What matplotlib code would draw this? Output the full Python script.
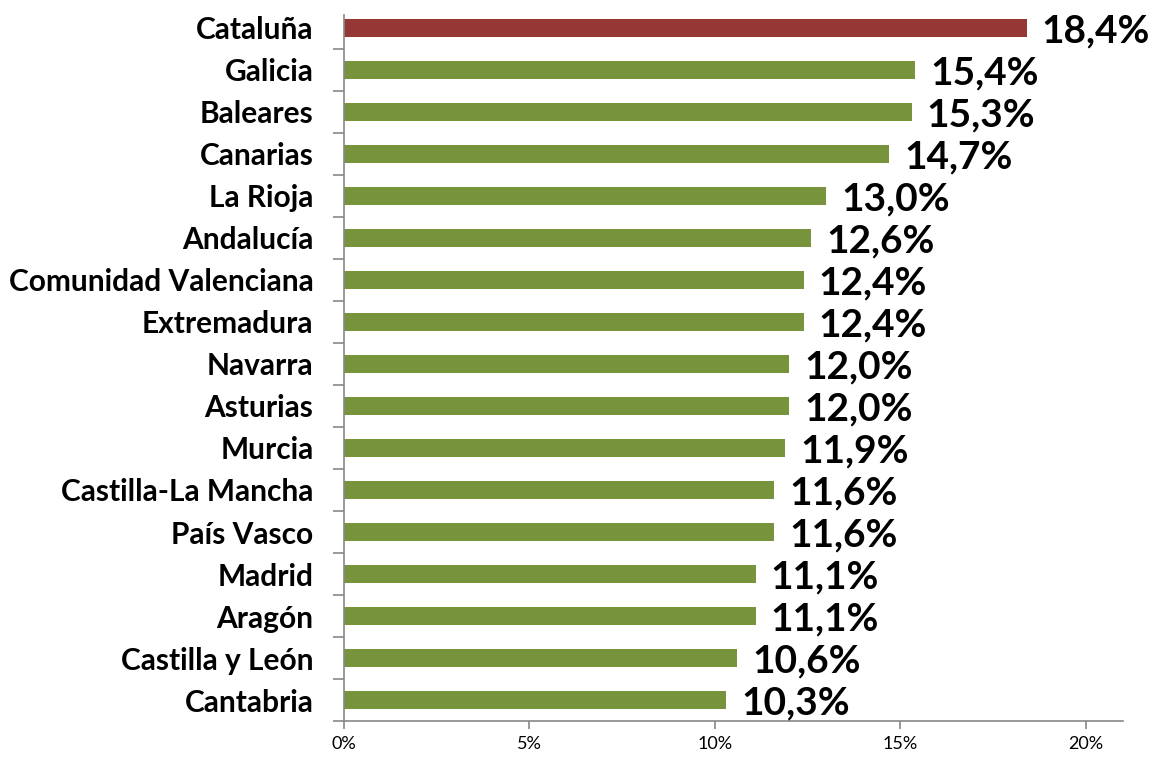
import matplotlib
matplotlib.use("Agg")
import matplotlib.pyplot as plt
from matplotlib.ticker import FuncFormatter, FixedLocator

regions = ["Cataluña", "Galicia", "Baleares", "Canarias", "La Rioja", "Andalucía",
           "Comunidad Valenciana", "Extremadura", "Navarra", "Asturias", "Murcia",
           "Castilla-La Mancha", "País Vasco", "Madrid", "Aragón", "Castilla y León",
           "Cantabria"]
values = [18.4, 15.4, 15.3, 14.7, 13.0, 12.6, 12.4, 12.4, 12.0, 12.0, 11.9,
          11.6, 11.6, 11.1, 11.1, 10.6, 10.3]
value_labels = ["18,4%", "15,4%", "15,3%", "14,7%", "13,0%", "12,6%", "12,4%", "12,4%",
                "12,0%", "12,0%", "11,9%", "11,6%", "11,6%", "11,1%", "11,1%", "10,6%",
                "10,3%"]
x_ticks = [0, 5, 10, 15, 20]

highlight = "#953735"
green = "#77933C"

plt.rcParams['font.family'] = ['Lato', 'DejaVu Sans']

fig = plt.figure(figsize=(11.53, 7.58), dpi=100)
ax = fig.add_axes([0.2983, 0.0488, 0.6757, 0.942])

n = len(regions)
ypos = list(range(n))
colors = [highlight if i == 0 else green for i in range(n)]
ax.barh(ypos, values, height=0.42, color=colors, zorder=2)

for y, v, lab in zip(ypos, values, value_labels):
    ax.text(v + 0.4, y + 0.08, lab, va="center", ha="left", fontsize=28,
            fontweight="bold", color="black")

ax.set_ylim(n - 0.5, -0.5)
ax.set_xlim(0, 21)

ax.set_yticks(ypos)
ax.set_yticklabels(regions, fontsize=21.5, fontweight="bold")
ax.tick_params(axis="y", length=0, pad=22)
ax.yaxis.set_minor_locator(FixedLocator([i + 0.5 for i in range(0, n)]))
ax.tick_params(axis="y", which="minor", length=8, color="#888888", width=1.2)
ax.spines["left"].set_bounds(n - 0.5, -0.3)

ax.set_xticks(x_ticks)
ax.xaxis.set_major_formatter(FuncFormatter(lambda x, p: f"{int(x)}%"))
ax.tick_params(axis="x", length=6, color="#888888", width=1.2, labelsize=13, pad=5)

for s in ["top", "right"]:
    ax.spines[s].set_visible(False)
for s in ["left", "bottom"]:
    ax.spines[s].set_color("#888888")
    ax.spines[s].set_linewidth(1.2)

fig.savefig("out.png", dpi=100)
